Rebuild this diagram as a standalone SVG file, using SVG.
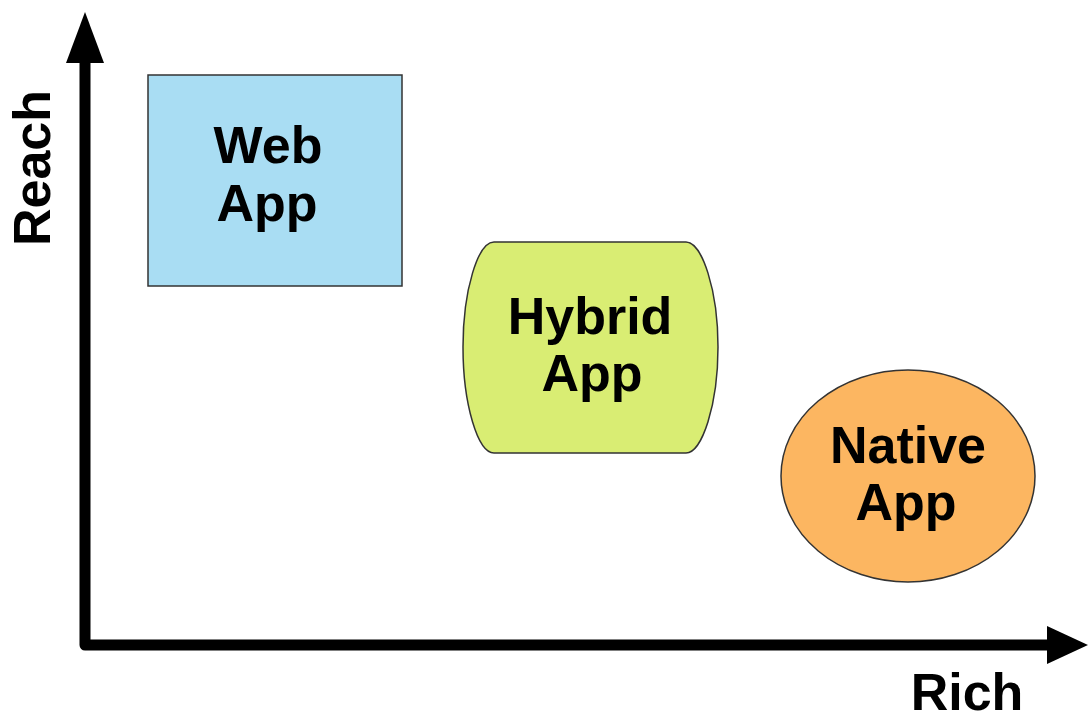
<svg xmlns="http://www.w3.org/2000/svg" width="1088" height="721" viewBox="0 0 1088 721">
<style>
.lbl{font-family:"Liberation Sans",Arial,sans-serif;font-weight:bold;font-size:52px;fill:#000;text-anchor:middle}
.ax{font-family:"Liberation Sans",Arial,sans-serif;font-weight:bold;font-size:52px;fill:#000}
.shape{stroke:#333;stroke-width:1.5}
</style>
<rect width="1088" height="721" fill="#fff"/>
<g id="connectors">
<path d="M85 62 V645 H1048" fill="none" stroke="#000" stroke-width="11" stroke-linejoin="round"/>
<polygon points="66,63 104,63 85,12" fill="#000"/>
<polygon points="1047,626 1047,664 1088,645" fill="#000"/>
</g>
<g id="axis-reach"><text class="ax" transform="translate(50,168) rotate(-90)" text-anchor="middle">Reach</text></g>
<g id="axis-rich"><text class="ax" x="967" y="710" text-anchor="middle">Rich</text></g>
<g id="web-app">
<rect class="shape" x="148" y="75" width="254" height="211" fill="#a9ddf3"/>
<text class="lbl" x="268" y="163">Web</text>
<text class="lbl" x="267" y="221">App</text>
</g>
<g id="hybrid-app">
<path class="shape" fill="#d9ed73" d="M494 242 H686 C702 242 718 290 718 347 C718 405 702 453 686 453 H494 C478 453 463 405 463 347 C463 290 478 242 494 242 Z"/>
<text class="lbl" x="590" y="334">Hybrid</text>
<text class="lbl" x="592" y="391">App</text>
</g>
<g id="native-app">
<ellipse class="shape" cx="908" cy="476" rx="127" ry="106" fill="#fcb661"/>
<text class="lbl" x="908" y="463">Native</text>
<text class="lbl" x="906" y="520">App</text>
</g>
</svg>
